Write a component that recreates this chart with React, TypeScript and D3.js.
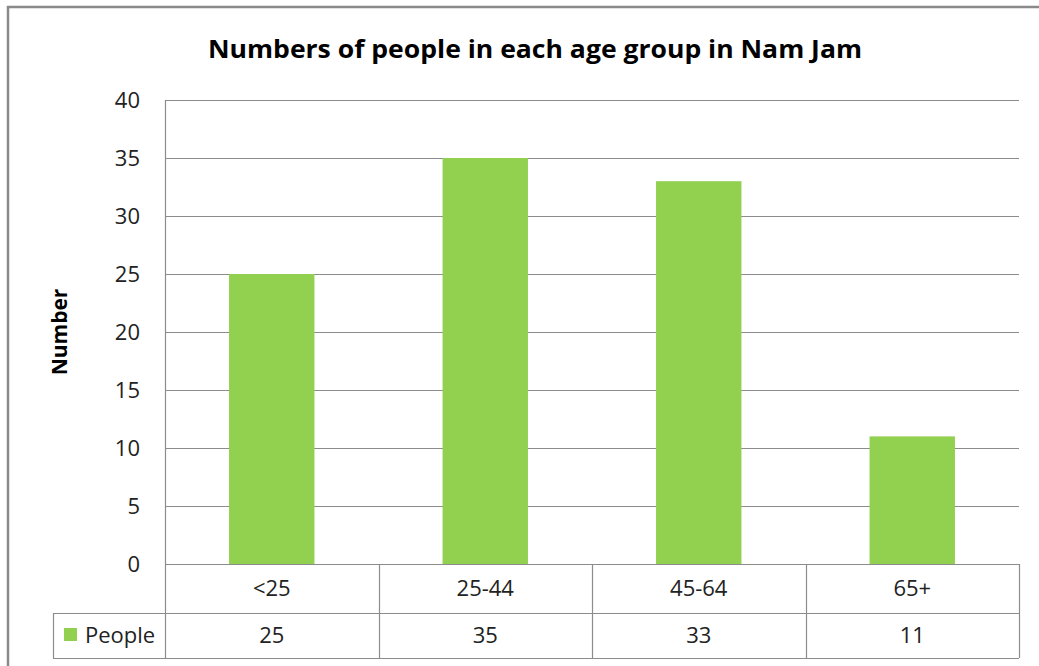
import React from "react";
import * as d3 from "d3";

const categories = ["<25", "25-44", "45-64", "65+"];
const people = [25, 35, 33, 11];
const yTicks = [0, 5, 10, 15, 20, 25, 30, 35, 40];
const seriesName = "People";
const chartTitle = "Numbers of people in each age group in Nam Jam";
const yAxisTitle = "Number";

const W = 1039;
const H = 666;
const plot = { left: 165, right: 1019, top: 100, bottom: 564 };
const tableRow1Bottom = 613;
const tableRow2Bottom = 658;
const legendLeft = 53;

const GREEN = "#92D050";
const GRID = "#8c8c8c";
const FONT = "'Open Sans', 'Noto Sans', sans-serif";

export default function App() {
  const x = d3
    .scaleBand<string>()
    .domain(categories)
    .range([plot.left, plot.right])
    .paddingInner(0)
    .paddingOuter(0);
  const y = d3.scaleLinear().domain([0, 40]).range([plot.bottom, plot.top]);
  const barW = x.bandwidth() * 0.4;
  const row1Mid = (plot.bottom + tableRow1Bottom) / 2;
  const row2Mid = (tableRow1Bottom + tableRow2Bottom) / 2;

  return (
    <svg
      width={W}
      height={H}
      style={{ position: "absolute", left: 0, top: 0, background: "#fff" }}
      fontFamily={FONT}
    >
      {/* chart frame */}
      <path d={`M8,${H} L8,7 L${W},7`} fill="none" stroke="#8a8a8a" strokeWidth={2.5} />

      <text
        x={208}
        y={58}
        fontSize={25}
        fontWeight="bold"
        fill="#000"
        textLength={654}
        lengthAdjust="spacingAndGlyphs"
      >
        {chartTitle}
      </text>

      {/* gridlines */}
      {yTicks.map((t) => (
        <line
          key={t}
          x1={plot.left}
          x2={plot.right}
          y1={Math.round(y(t)) + 0.5}
          y2={Math.round(y(t)) + 0.5}
          stroke={GRID}
          strokeWidth={1.2}
        />
      ))}
      <line x1={plot.left + 0.5} x2={plot.left + 0.5} y1={plot.top} y2={tableRow1Bottom} stroke={GRID} strokeWidth={1.2} />

      {/* y tick labels */}
      {yTicks.map((t) => (
        <text
          key={t}
          x={140}
          y={y(t)}
          dy="0.36em"
          textAnchor="end"
          fontSize={22}
          fill="#222"
        >
          {t}
        </text>
      ))}

      <text
        transform={`translate(67,${(plot.top + plot.bottom) / 2}) rotate(-90)`}
        textAnchor="middle"
        fontSize={21}
        fontWeight="bold"
        fill="#000"
      >
        {yAxisTitle}
      </text>

      {/* bars */}
      {categories.map((c, i) => (
        <rect
          key={c}
          x={(x(c) as number) + (x.bandwidth() - barW) / 2}
          y={y(people[i])}
          width={barW}
          height={y(0) - y(people[i])}
          fill={GREEN}
        />
      ))}

      {/* data table */}
      <g stroke={GRID} strokeWidth={1.2} fill="none">
        <line x1={legendLeft} x2={plot.right} y1={tableRow1Bottom + 0.5} y2={tableRow1Bottom + 0.5} />
        <line x1={legendLeft} x2={plot.right} y1={tableRow2Bottom + 0.5} y2={tableRow2Bottom + 0.5} />
        <line x1={legendLeft + 0.5} x2={legendLeft + 0.5} y1={tableRow1Bottom} y2={tableRow2Bottom} />
        <line x1={plot.left + 0.5} x2={plot.left + 0.5} y1={tableRow1Bottom} y2={tableRow2Bottom} />
        {categories.map((c) => {
          const xr = Math.round((x(c) as number) + x.bandwidth()) + 0.5;
          return <line key={c} x1={xr} x2={xr} y1={plot.bottom} y2={tableRow2Bottom} />;
        })}
      </g>

      {categories.map((c, i) => {
        const cx = (x(c) as number) + x.bandwidth() / 2;
        return (
          <g key={c} fontSize={22} fill="#222" textAnchor="middle">
            <text x={cx} y={row1Mid} dy="0.36em">{c}</text>
            <text x={cx} y={row2Mid} dy="0.36em">{people[i]}</text>
          </g>
        );
      })}

      <rect x={64} y={628} width={13} height={13} fill={GREEN} />
      <text x={85} y={row2Mid} dy="0.36em" fontSize={22} fill="#222">
        {seriesName}
      </text>
    </svg>
  );
}
